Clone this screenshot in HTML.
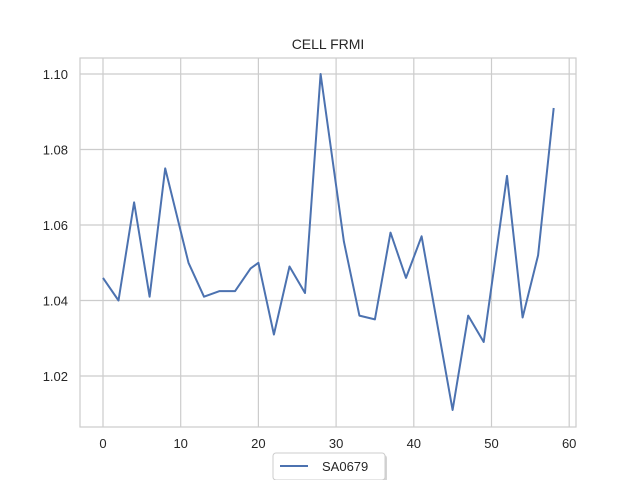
<!DOCTYPE html>
<html><head><meta charset="utf-8"><style>
body{margin:0;background:#fff;}
svg text{font-family:"Liberation Sans","DejaVu Sans",sans-serif;fill:#262626;}
</style></head><body>
<svg width="640" height="480" viewBox="0 0 640 480">
<rect x="80" y="58" width="496" height="369" fill="#fff"/>
<g id="grid"></g>
<rect x="80" y="58" width="496" height="369" fill="none" stroke="#cccccc" stroke-width="1.2"/>
<g id="ticks"></g>
<path id="line" fill="none" stroke="#4c72b0" stroke-width="2" stroke-linejoin="round"/>
<text x="328" y="49" text-anchor="middle" font-size="14">CELL FRMI</text>
<g>
<rect x="275" y="455" width="112" height="27" rx="3" fill="#aaa" opacity="0.5"/>
<rect x="273" y="453" width="112" height="27" rx="3" fill="#fff" stroke="#cccccc"/>
<line x1="280" y1="466" x2="308" y2="466" stroke="#4c72b0" stroke-width="2"/>
<text x="322" y="471" font-size="13">SA0679</text>
</g>
</svg>
<script>
const xValues=[0,2,4,6,8,11,13,15,17,19,20,22,24,26,28,31,33,35,37,39,41,45,47,49,52,54,56,58];
const yValues=[1.046,1.040,1.066,1.041,1.075,1.050,1.041,1.0425,1.0425,1.0485,1.050,1.031,1.049,1.042,1.100,1.0556,1.036,1.035,1.058,1.046,1.057,1.011,1.036,1.029,1.073,1.0355,1.052,1.091];
const xTicks=[0,10,20,30,40,50,60];
const yTicks=[1.02,1.04,1.06,1.08,1.10];
const NS="http://www.w3.org/2000/svg";
function sx(v){return 103+v*7.77;}
function sy(v){return 74+(1.10-v)*3775;}
const grid=document.getElementById('grid'),ticks=document.getElementById('ticks');
xTicks.forEach(t=>{
 const l=document.createElementNS(NS,'line');
 l.setAttribute('x1',sx(t));l.setAttribute('x2',sx(t));l.setAttribute('y1',58);l.setAttribute('y2',427);
 l.setAttribute('stroke','#cccccc');l.setAttribute('stroke-width','1.2');
 
 
 grid.appendChild(l);
 const tx=document.createElementNS(NS,'text');
 tx.setAttribute('x',sx(t));tx.setAttribute('y',448);tx.setAttribute('text-anchor','middle');tx.setAttribute('font-size','13');
 tx.textContent=t;
 
 
 ticks.appendChild(tx);
});
yTicks.forEach(t=>{
 const l=document.createElementNS(NS,'line');
 l.setAttribute('x1',80);l.setAttribute('x2',576);l.setAttribute('y1',sy(t));l.setAttribute('y2',sy(t));
 l.setAttribute('stroke','#cccccc');l.setAttribute('stroke-width','1.2');
 
 
 grid.appendChild(l);
 const tx=document.createElementNS(NS,'text');
 tx.setAttribute('x',68);tx.setAttribute('y',sy(t)+5);tx.setAttribute('text-anchor','end');tx.setAttribute('font-size','13');
 tx.textContent=t.toFixed(2);
 
 
 ticks.appendChild(tx);
});
document.getElementById('line').setAttribute('d',xValues.map((x,i)=>(i?'L':'M')+sx(x).toFixed(1)+' '+sy(yValues[i]).toFixed(1)).join(' '));
</script>
</body></html>
